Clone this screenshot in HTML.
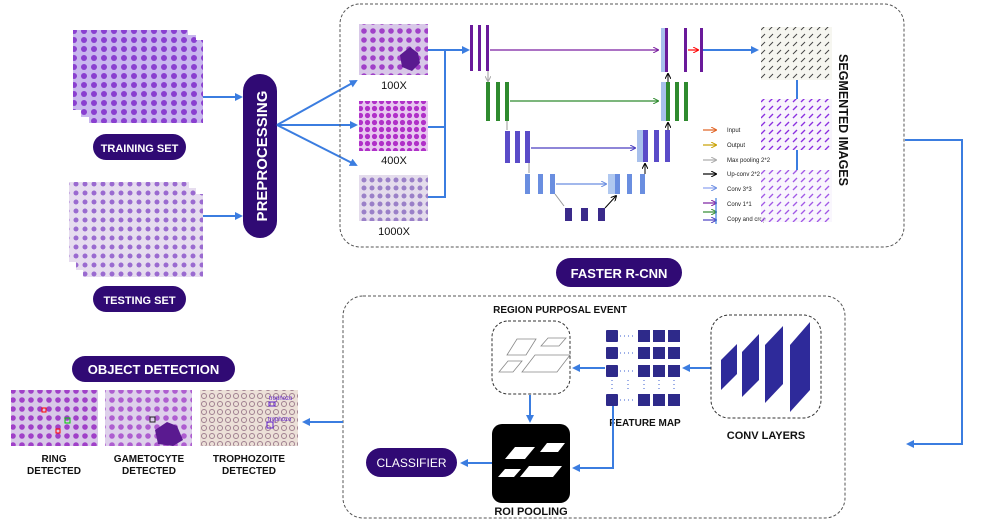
<!DOCTYPE html>
<html><head><meta charset="utf-8"><style>
html,body{margin:0;padding:0;background:#fff;}
svg{display:block;font-family:"Liberation Sans",sans-serif;}
.pt{fill:#fff;font-weight:bold;}
.lb{fill:#111;font-weight:bold;}
</style></head><body>
<svg width="987" height="525" viewBox="0 0 987 525" xmlns="http://www.w3.org/2000/svg">
<defs>
<marker id="ab" markerWidth="8" markerHeight="8" refX="6" refY="4" orient="auto" markerUnits="userSpaceOnUse"><path d="M0,0 L8,4 L0,8 Z" fill="#3b7de0"/></marker>
<marker id="ap" markerWidth="6" markerHeight="6" refX="5" refY="3" orient="auto" markerUnits="userSpaceOnUse"><path d="M0,0 L6,3 L0,6" fill="none" stroke="#7a1fa0" stroke-width="1"/></marker>
<marker id="ag" markerWidth="6" markerHeight="6" refX="5" refY="3" orient="auto" markerUnits="userSpaceOnUse"><path d="M0,0 L6,3 L0,6" fill="none" stroke="#2e8a2e" stroke-width="1"/></marker>
<marker id="ai" markerWidth="6" markerHeight="6" refX="5" refY="3" orient="auto" markerUnits="userSpaceOnUse"><path d="M0,0 L6,3 L0,6" fill="none" stroke="#4a3ec0" stroke-width="1"/></marker>
<marker id="al" markerWidth="6" markerHeight="6" refX="5" refY="3" orient="auto" markerUnits="userSpaceOnUse"><path d="M0,0 L6,3 L0,6" fill="none" stroke="#6a8ee0" stroke-width="1"/></marker>
<marker id="ak" markerWidth="6" markerHeight="6" refX="5" refY="3" orient="auto" markerUnits="userSpaceOnUse"><path d="M0,0 L6,3 L0,6" fill="none" stroke="#000" stroke-width="1"/></marker>
<marker id="ar" markerWidth="6" markerHeight="6" refX="5" refY="3" orient="auto" markerUnits="userSpaceOnUse"><path d="M0,0 L6,3 L0,6" fill="none" stroke="#f00" stroke-width="1"/></marker>
<marker id="ao" markerWidth="6" markerHeight="6" refX="5" refY="3" orient="auto" markerUnits="userSpaceOnUse"><path d="M0,0 L6,3 L0,6" fill="none" stroke="#e06020" stroke-width="1"/></marker>
<marker id="ay" markerWidth="6" markerHeight="6" refX="5" refY="3" orient="auto" markerUnits="userSpaceOnUse"><path d="M0,0 L6,3 L0,6" fill="none" stroke="#c8a000" stroke-width="1"/></marker>
<marker id="aa" markerWidth="6" markerHeight="6" refX="5" refY="3" orient="auto" markerUnits="userSpaceOnUse"><path d="M0,0 L6,3 L0,6" fill="none" stroke="#aaa" stroke-width="1"/></marker>
<pattern id="p1" width="10" height="9" patternUnits="userSpaceOnUse"><rect width="10" height="9" fill="#c8b6ee"/><circle cx="4" cy="4" r="3" fill="#8a3fd0"/></pattern>
<pattern id="p2" width="9" height="9" patternUnits="userSpaceOnUse"><rect width="9" height="9" fill="#e6dcef"/><circle cx="4" cy="4" r="2.5" fill="#9a6ad0"/></pattern>
<pattern id="p3" width="7" height="7" patternUnits="userSpaceOnUse"><rect width="7" height="7" fill="#e8c8f0"/><circle cx="3.5" cy="3.5" r="2.6" fill="#b030c8"/></pattern>
<pattern id="p4" width="8" height="8" patternUnits="userSpaceOnUse"><rect width="8" height="8" fill="#e4dcec"/><circle cx="4" cy="4" r="2.5" fill="#9a80c8"/></pattern>
<pattern id="p5" width="8" height="8" patternUnits="userSpaceOnUse"><rect width="8" height="8" fill="#f6f6f0"/><path d="M1,6 L5,2" stroke="#444" stroke-width="1"/></pattern>
<pattern id="p6" width="8" height="8" patternUnits="userSpaceOnUse"><rect width="8" height="8" fill="#f8f4fc"/><path d="M1,6 L5,2" stroke="#8a2ee0" stroke-width="1.3"/></pattern>
<pattern id="p7" width="8" height="8" patternUnits="userSpaceOnUse"><rect width="8" height="8" fill="#ece0d8"/><circle cx="4" cy="4" r="2.5" fill="none" stroke="#a08090" stroke-width="1"/></pattern>
<pattern id="p8" width="9" height="9" patternUnits="userSpaceOnUse"><rect width="9" height="9" fill="#d8c8e8"/><circle cx="4" cy="4" r="2.8" fill="#a040c8"/></pattern>
</defs>

<rect x="73" y="30" width="115" height="80" fill="url(#p1)"/>
<rect x="81" y="35" width="115" height="82" fill="url(#p1)"/>
<rect x="89" y="40" width="114" height="83" fill="url(#p1)"/>
<rect x="93" y="134" width="93" height="26" rx="13" fill="#300a74"/>
<text x="139.5" y="152" text-anchor="middle" class="pt" font-size="11">TRAINING SET</text>
<rect x="69" y="182" width="120" height="80" fill="url(#p2)"/>
<rect x="76" y="188" width="120" height="82" fill="url(#p2)"/>
<rect x="83" y="194" width="120" height="83" fill="url(#p2)"/>
<rect x="93" y="286" width="93" height="26" rx="13" fill="#300a74"/>
<text x="139.5" y="304" text-anchor="middle" class="pt" font-size="11">TESTING SET</text>
<line x1="203" y1="97" x2="241" y2="97" stroke="#3b7de0" stroke-width="2" marker-end="url(#ab)"/>
<line x1="203" y1="216" x2="241" y2="216" stroke="#3b7de0" stroke-width="2" marker-end="url(#ab)"/>
<rect x="243" y="74" width="34" height="164" rx="17" fill="#300a74"/>
<text transform="translate(267,156) rotate(-90)" text-anchor="middle" class="pt" font-size="15">PREPROCESSING</text>
<line x1="277" y1="125" x2="356" y2="81" stroke="#3b7de0" stroke-width="2" marker-end="url(#ab)"/>
<line x1="277" y1="125" x2="356" y2="125" stroke="#3b7de0" stroke-width="2" marker-end="url(#ab)"/>
<line x1="277" y1="125" x2="356" y2="165" stroke="#3b7de0" stroke-width="2" marker-end="url(#ab)"/>

<rect x="340" y="4" width="564" height="243" rx="20" fill="none" stroke="#555" stroke-width="1" stroke-dasharray="3,2"/>
<rect x="359" y="24" width="69" height="51" fill="url(#p8)"/>
<path d="M400,55 l10,-8 l8,6 l2,10 l-8,8 l-10,-4 z" fill="#5a1a90"/>
<text x="394" y="89" text-anchor="middle" fill="#111" font-size="11">100X</text>
<rect x="359" y="101" width="69" height="50" fill="url(#p3)"/>
<text x="394" y="164" text-anchor="middle" fill="#111" font-size="11">400X</text>
<rect x="359" y="175" width="69" height="46" fill="url(#p4)"/>
<text x="394" y="235" text-anchor="middle" fill="#111" font-size="11">1000X</text>
<path d="M428,50 H445 M428,127 H445 M428,197 H445 V50" fill="none" stroke="#3b7de0" stroke-width="2"/>
<line x1="445" y1="50" x2="468" y2="50" stroke="#3b7de0" stroke-width="2" marker-end="url(#ab)"/>

<g fill="#6a1a9a">
<rect x="470" y="25" width="3" height="46"/><rect x="478" y="25" width="3" height="46"/><rect x="486" y="25" width="3" height="46"/>
<rect x="665" y="28" width="3" height="44"/><rect x="684" y="28" width="3" height="44"/><rect x="700" y="28" width="3" height="44"/>
</g>
<rect x="661" y="28" width="4" height="44" fill="#a8c0ec"/>
<line x1="490" y1="50" x2="658" y2="50" stroke="#7a1fa0" stroke-width="1.2" marker-end="url(#ap)"/>
<line x1="688" y1="50" x2="698" y2="50" stroke="#f00" stroke-width="1.2" marker-end="url(#ar)"/>
<line x1="703" y1="50" x2="757" y2="50" stroke="#3b7de0" stroke-width="2" marker-end="url(#ab)"/>
<g fill="#2e8a2e">
<rect x="486" y="82" width="4" height="39"/><rect x="496" y="82" width="4" height="39"/><rect x="505" y="82" width="4" height="39"/>
<rect x="666" y="82" width="4" height="39"/><rect x="675" y="82" width="4" height="39"/><rect x="684" y="82" width="4" height="39"/>
</g>
<rect x="661" y="82" width="5" height="39" fill="#a8c0ec"/>
<line x1="510" y1="101" x2="658" y2="101" stroke="#2e8a2e" stroke-width="1.2" marker-end="url(#ag)"/>
<g fill="#5a4bc8">
<rect x="505" y="131" width="5" height="32"/><rect x="515" y="131" width="5" height="32"/><rect x="525" y="131" width="5" height="32"/>
<rect x="643" y="130" width="5" height="32"/><rect x="654" y="130" width="5" height="32"/><rect x="665" y="130" width="5" height="32"/>
</g>
<rect x="637" y="130" width="6" height="32" fill="#a8c0ec"/>
<line x1="531" y1="148" x2="635" y2="148" stroke="#4a3ec0" stroke-width="1.2" marker-end="url(#ai)"/>
<g fill="#6a8ee0">
<rect x="525" y="174" width="5" height="20"/><rect x="538" y="174" width="5" height="20"/><rect x="550" y="174" width="5" height="20"/>
<rect x="615" y="174" width="5" height="20"/><rect x="627" y="174" width="5" height="20"/><rect x="640" y="174" width="5" height="20"/>
</g>
<rect x="608" y="174" width="7" height="20" fill="#b0c8f0"/>
<line x1="556" y1="184" x2="606" y2="184" stroke="#6a8ee0" stroke-width="1.2" marker-end="url(#al)"/>
<g fill="#3a2a8a">
<rect x="565" y="208" width="7" height="13"/><rect x="581" y="208" width="7" height="13"/><rect x="598" y="208" width="7" height="13"/>
</g>
<g stroke-width="1" fill="none">
<line x1="488" y1="71" x2="488" y2="81" stroke="#999" marker-end="url(#aa)"/>
<line x1="507" y1="121" x2="507" y2="130" stroke="#999"/>
<line x1="529" y1="163" x2="529" y2="173" stroke="#999"/>
<line x1="555" y1="194" x2="564" y2="206" stroke="#999"/>
<line x1="605" y1="208" x2="616" y2="196" stroke="#000" marker-end="url(#ak)"/>
<line x1="645" y1="174" x2="645" y2="164" stroke="#000" marker-end="url(#ak)"/>
<line x1="668" y1="130" x2="668" y2="123" stroke="#000" marker-end="url(#ak)"/>
<line x1="668" y1="82" x2="668" y2="74" stroke="#000" marker-end="url(#ak)"/>
</g>
<g stroke-width="1.2" fill="none">
<line x1="703" y1="130" x2="716" y2="130" stroke="#e06020" marker-end="url(#ao)"/>
<line x1="703" y1="145" x2="716" y2="145" stroke="#c8a000" marker-end="url(#ay)"/>
<line x1="703" y1="160" x2="716" y2="160" stroke="#aaa" marker-end="url(#aa)"/>
<line x1="703" y1="174" x2="716" y2="174" stroke="#000" marker-end="url(#ak)"/>
<line x1="703" y1="188" x2="716" y2="188" stroke="#8aa0f0" marker-end="url(#al)"/>
<line x1="703" y1="203" x2="716" y2="203" stroke="#7a1fa0" marker-end="url(#ap)"/>
<line x1="703" y1="212" x2="716" y2="212" stroke="#2e8a2e" marker-end="url(#ag)"/>
<line x1="703" y1="220" x2="716" y2="220" stroke="#4a3ec0" marker-end="url(#ai)"/>
<line x1="716" y1="198" x2="716" y2="224" stroke="#3b7de0"/>
</g>
<g font-size="6" fill="#222">
<text x="727" y="132">Input</text>
<text x="727" y="147">Output</text>
<text x="727" y="162">Max pooling 2*2</text>
<text x="727" y="176">Up-conv 2*2</text>
<text x="727" y="191">Conv 3*3</text>
<text x="727" y="206">Conv 1*1</text>
<text x="727" y="221">Copy and crop</text>
</g>
<rect x="761" y="27" width="71" height="53" fill="url(#p5)"/>
<rect x="761" y="99" width="71" height="51" fill="url(#p6)"/>
<rect x="761" y="170" width="71" height="52" fill="url(#p6)" opacity="0.8"/>
<line x1="797" y1="80" x2="797" y2="99" stroke="#3b7de0" stroke-width="2"/>
<line x1="797" y1="150" x2="797" y2="170" stroke="#3b7de0" stroke-width="2"/>
<text transform="translate(839,120) rotate(90)" text-anchor="middle" class="lb" font-size="12.5">SEGMENTED IMAGES</text>
<path d="M905,140 H962 V444 H908" fill="none" stroke="#3b7de0" stroke-width="2" marker-end="url(#ab)"/>

<rect x="556" y="258" width="126" height="29" rx="14.5" fill="#300a74"/>
<text x="619" y="278" text-anchor="middle" class="pt" font-size="13">FASTER R-CNN</text>

<rect x="343" y="296" width="502" height="222" rx="20" fill="none" stroke="#555" stroke-width="1" stroke-dasharray="3,2"/>
<text x="560" y="313" text-anchor="middle" class="lb" font-size="10">REGION PURPOSAL EVENT</text>
<rect x="492" y="321" width="78" height="73" rx="16" fill="none" stroke="#333" stroke-width="1" stroke-dasharray="3,2"/>
<g fill="none" stroke="#888" stroke-width="0.8">
<path d="M507,355 l10,-16 h19 l-10,16 z"/><path d="M541,346 l7,-8 h18 l-7,8 z"/>
<path d="M499,372 l9,-11 h14 l-9,11 z"/><path d="M522,372 l13,-17 h35 l-13,17 z"/>
</g>
<g fill="#2e2a8a">
<rect x="606" y="330" width="12" height="12" rx="1"/><rect x="638" y="330" width="12" height="12"/><rect x="653" y="330" width="12" height="12"/><rect x="668" y="330" width="12" height="12"/>
<rect x="606" y="347" width="12" height="12" rx="1"/><rect x="638" y="347" width="12" height="12"/><rect x="653" y="347" width="12" height="12"/><rect x="668" y="347" width="12" height="12"/>
<rect x="606" y="365" width="12" height="12" rx="1"/><rect x="638" y="365" width="12" height="12"/><rect x="653" y="365" width="12" height="12"/><rect x="668" y="365" width="12" height="12"/>
<rect x="606" y="394" width="12" height="12" rx="1"/><rect x="638" y="394" width="12" height="12"/><rect x="653" y="394" width="12" height="12"/><rect x="668" y="394" width="12" height="12"/>
</g>
<g stroke="#3b5fd0" stroke-width="1" stroke-dasharray="1,3">
<line x1="620" y1="336" x2="636" y2="336"/><line x1="620" y1="353" x2="636" y2="353"/><line x1="620" y1="371" x2="636" y2="371"/><line x1="620" y1="400" x2="636" y2="400"/>
<line x1="612" y1="380" x2="612" y2="392"/><line x1="628" y1="380" x2="628" y2="392"/><line x1="644" y1="380" x2="644" y2="392"/><line x1="659" y1="380" x2="659" y2="392"/><line x1="674" y1="380" x2="674" y2="392"/>
</g>
<text x="645" y="426" text-anchor="middle" class="lb" font-size="10">FEATURE MAP</text>
<line x1="605" y1="368" x2="574" y2="368" stroke="#3b7de0" stroke-width="2" marker-end="url(#ab)"/>
<line x1="711" y1="368" x2="684" y2="368" stroke="#3b7de0" stroke-width="2" marker-end="url(#ab)"/>
<rect x="711" y="315" width="110" height="103" rx="18" fill="none" stroke="#333" stroke-width="1" stroke-dasharray="3,2"/>
<g fill="#2e2a9a">
<path d="M721,360 l16,-16 v30 l-16,16 z"/><path d="M742,352 l17,-18 v46 l-17,17 z"/>
<path d="M765,345 l18,-19 v58 l-18,19 z"/><path d="M790,345 l20,-23 v68 l-20,22 z"/>
</g>
<text x="766" y="439" text-anchor="middle" class="lb" font-size="11">CONV LAYERS</text>
<line x1="530" y1="395" x2="530" y2="421" stroke="#3b7de0" stroke-width="2" marker-end="url(#ab)"/>
<rect x="492" y="424" width="78" height="79" rx="10" fill="#000"/>
<g fill="#fff">
<path d="M505,459 l10,-12 h20 l-10,12 z"/><path d="M540,452 l7,-9 h18 l-7,9 z"/>
<path d="M498,477 l7,-8 h16 l-7,8 z"/><path d="M520,477 l9,-11 h33 l-9,11 z"/>
</g>
<text x="531" y="515" text-anchor="middle" class="lb" font-size="11">ROI POOLING</text>
<path d="M613,406 V468 H574" fill="none" stroke="#3b7de0" stroke-width="2" marker-end="url(#ab)"/>
<line x1="492" y1="463" x2="462" y2="463" stroke="#3b7de0" stroke-width="2" marker-end="url(#ab)"/>
<rect x="366" y="448" width="91" height="29" rx="14.5" fill="#300a74"/>
<text x="411.5" y="467" text-anchor="middle" fill="#fff" font-size="12">CLASSIFIER</text>

<rect x="72" y="356" width="163" height="26" rx="13" fill="#300a74"/>
<text x="153.5" y="374" text-anchor="middle" class="pt" font-size="13">OBJECT DETECTION</text>
<rect x="11" y="390" width="87" height="56" fill="url(#p8)"/>
<rect x="105" y="390" width="87" height="56" fill="url(#p8)" opacity="0.85"/>
<path d="M155,430 l12,-8 l10,4 l6,14 l-10,6 l-15,-2 z" fill="#5a1a90"/>
<rect x="200" y="390" width="98" height="56" fill="url(#p7)"/>
<rect x="42" y="408" width="4" height="4" fill="none" stroke="#f00"/>
<rect x="65" y="418" width="5" height="5" fill="none" stroke="#0c0"/>
<rect x="56" y="429" width="4" height="4" fill="none" stroke="#f00"/>
<rect x="150" y="417" width="5" height="5" fill="none" stroke="#222"/>
<rect x="269" y="402" width="6" height="4" fill="none" stroke="#6020d0"/>
<rect x="267" y="422" width="6" height="6" fill="none" stroke="#6020d0"/>
<text x="269" y="400" fill="#6020d0" font-size="6">trophozo</text>
<text x="268" y="421" fill="#6020d0" font-size="6">trophozo</text>
<line x1="343" y1="422" x2="304" y2="422" stroke="#3b7de0" stroke-width="2" marker-end="url(#ab)"/>
<g class="lb" font-size="10" text-anchor="middle">
<text x="54" y="462">RING</text><text x="54" y="474">DETECTED</text>
<text x="149" y="462">GAMETOCYTE</text><text x="149" y="474">DETECTED</text>
<text x="249" y="462">TROPHOZOITE</text><text x="249" y="474">DETECTED</text>
</g>
</svg>
</body></html>
